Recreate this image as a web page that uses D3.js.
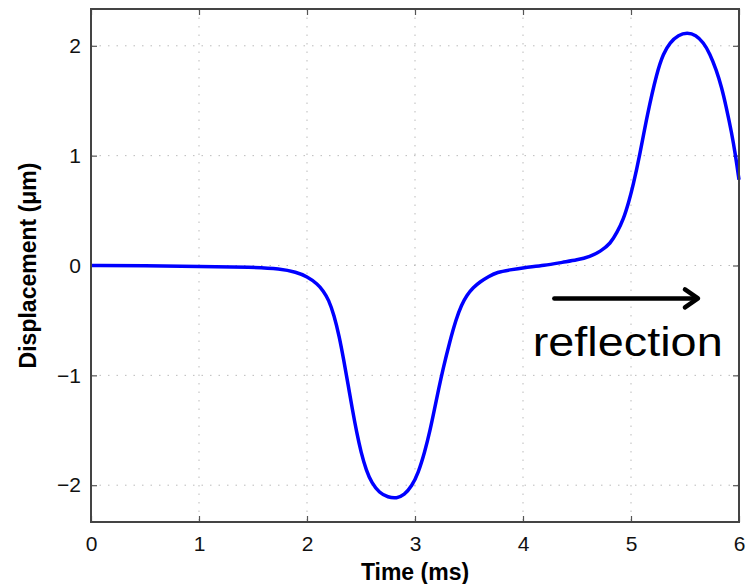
<!DOCTYPE html>
<html>
<head>
<meta charset="utf-8">
<script src="https://cdn.jsdelivr.net/npm/d3@7"></script>
<style>
  body { margin: 0; background: #fff; }
  svg { display: block; font-family: "Liberation Sans", Arial, Helvetica, sans-serif; }
</style>
</head>
<body>
<svg id="chart" width="747" height="584"></svg>
<script>
// Data
const timeMs = [0, 0.5, 1.0, 1.5, 1.75, 1.9, 2.0, 2.1, 2.15, 2.2, 2.25, 2.3, 2.34, 2.38, 2.42, 2.46, 2.5, 2.55, 2.6, 2.67, 2.75, 2.83, 2.9, 2.97, 3.03, 3.09, 3.14, 3.18, 3.22, 3.26, 3.32, 3.38, 3.43, 3.48, 3.54, 3.6, 3.68, 3.76, 3.88, 4.0, 4.2, 4.37, 4.5, 4.62, 4.72, 4.81, 4.87, 4.93, 4.98, 5.02, 5.08, 5.15, 5.24, 5.3, 5.36, 5.44, 5.52, 5.6, 5.67, 5.73, 5.79, 5.84, 5.88, 5.93, 5.97, 6.0];
const displacement = [0, 0, -0.01, -0.015, -0.03, -0.06, -0.10, -0.17, -0.23, -0.31, -0.45, -0.65, -0.86, -1.08, -1.31, -1.52, -1.70, -1.87, -1.98, -2.07, -2.11, -2.12, -2.09, -2.01, -1.89, -1.70, -1.50, -1.31, -1.12, -0.94, -0.70, -0.49, -0.36, -0.27, -0.20, -0.15, -0.10, -0.06, -0.04, -0.02, 0.0, 0.03, 0.05, 0.08, 0.13, 0.20, 0.30, 0.42, 0.58, 0.73, 1.0, 1.37, 1.76, 1.93, 2.03, 2.10, 2.12, 2.10, 2.03, 1.93, 1.78, 1.62, 1.45, 1.22, 0.99, 0.78];
const xTicks = [0, 1, 2, 3, 4, 5, 6];
const yTicks = [-2, -1, 0, 1, 2];
const xDomain = [0, 6];
const yDomain = [-2.335, 2.335];
const arrowFrom = 4.29, arrowTo = 5.62, arrowY = -0.3;

const svg = d3.select('#chart');
const margin = { top: 9, right: 8, bottom: 62, left: 91 };
const width = 747 - margin.left - margin.right;
const height = 584 - margin.top - margin.bottom;

const x = d3.scaleLinear().domain(xDomain).range([0, width]);
const y = d3.scaleLinear().domain(yDomain).range([height, 0]);

const g = svg.append('g').attr('transform', `translate(${margin.left},${margin.top})`);

// Grid lines (dotted)
g.append('g').selectAll('line').data(xTicks.slice(1, -1)).enter().append('line')
  .attr('x1', d => x(d)).attr('x2', d => x(d)).attr('y1', 0).attr('y2', height)
  .attr('stroke', '#bbb').attr('stroke-width', 1).attr('stroke-dasharray', '1.5,7');
g.append('g').selectAll('line').data(yTicks).enter().append('line')
  .attr('x1', 0).attr('x2', width).attr('y1', d => y(d)).attr('y2', d => y(d))
  .attr('stroke', '#bbb').attr('stroke-width', 1).attr('stroke-dasharray', '1.5,7');

// Axes with inward ticks
const tickStyle = sel => {
  sel.select('.domain').remove();
  sel.selectAll('.tick line').attr('stroke', '#555').attr('stroke-width', 1.2);
  sel.selectAll('.tick text').attr('fill', '#111').attr('font-size', '21px');
};
const fmt = d => d < 0 ? '\u2212' + Math.abs(d) : String(d);

g.append('g').attr('transform', `translate(0,${height})`)
  .call(d3.axisBottom(x).tickValues(xTicks).tickFormat(fmt).tickSizeInner(-6).tickPadding(14))
  .call(tickStyle);
g.append('g')
  .call(d3.axisTop(x).tickValues(xTicks).tickFormat('').tickSizeInner(-6))
  .call(tickStyle);
g.append('g')
  .call(d3.axisLeft(y).tickValues(yTicks).tickFormat(fmt).tickSizeInner(-6).tickPadding(10))
  .call(tickStyle);
g.append('g').attr('transform', `translate(${width},0)`)
  .call(d3.axisRight(y).tickValues(yTicks).tickFormat('').tickSizeInner(-6))
  .call(tickStyle);

// Curve
const points = timeMs.map((t, i) => [t, displacement[i]]);
const line = d3.line().x(d => x(d[0])).y(d => y(d[1])).curve(d3.curveBasis);
g.append('path').datum(points).attr('d', line)
  .attr('fill', 'none').attr('stroke', '#0000ff').attr('stroke-width', 3.5)
  .attr('stroke-linejoin', 'round');

// Box
g.append('rect').attr('width', width).attr('height', height)
  .attr('fill', 'none').attr('stroke', '#444').attr('stroke-width', 2);

// Annotation arrow
const ax1 = x(arrowFrom), ax2 = x(arrowTo), ay = y(arrowY);
g.append('line').attr('x1', ax1).attr('x2', ax2 - 2).attr('y1', ay).attr('y2', ay)
  .attr('stroke', '#000').attr('stroke-width', 4.5).attr('stroke-linecap', 'round');
g.append('path').attr('d', `M${ax2 - 13},${ay - 9}L${ax2},${ay}L${ax2 - 13},${ay + 9}`)
  .attr('fill', 'none').attr('stroke', '#000').attr('stroke-width', 4.5)
  .attr('stroke-linecap', 'round').attr('stroke-linejoin', 'round');
g.append('text').attr('x', x(4.09)).attr('y', y(-0.82))
  .attr('font-size', '41px').attr('fill', '#000')
  .attr('textLength', 190).attr('lengthAdjust', 'spacingAndGlyphs')
  .text('reflection');

// Axis labels
svg.append('text').attr('x', margin.left + width / 2).attr('y', 580)
  .attr('text-anchor', 'middle').attr('font-size', '23px').attr('font-weight', 'bold')
  .text('Time (ms)');
svg.append('text')
  .attr('transform', `translate(36,${margin.top + height / 2}) rotate(-90)`)
  .attr('text-anchor', 'middle').attr('font-size', '23px').attr('font-weight', 'bold')
  .text('Displacement (\u03bcm)');
</script>
</body>
</html>
